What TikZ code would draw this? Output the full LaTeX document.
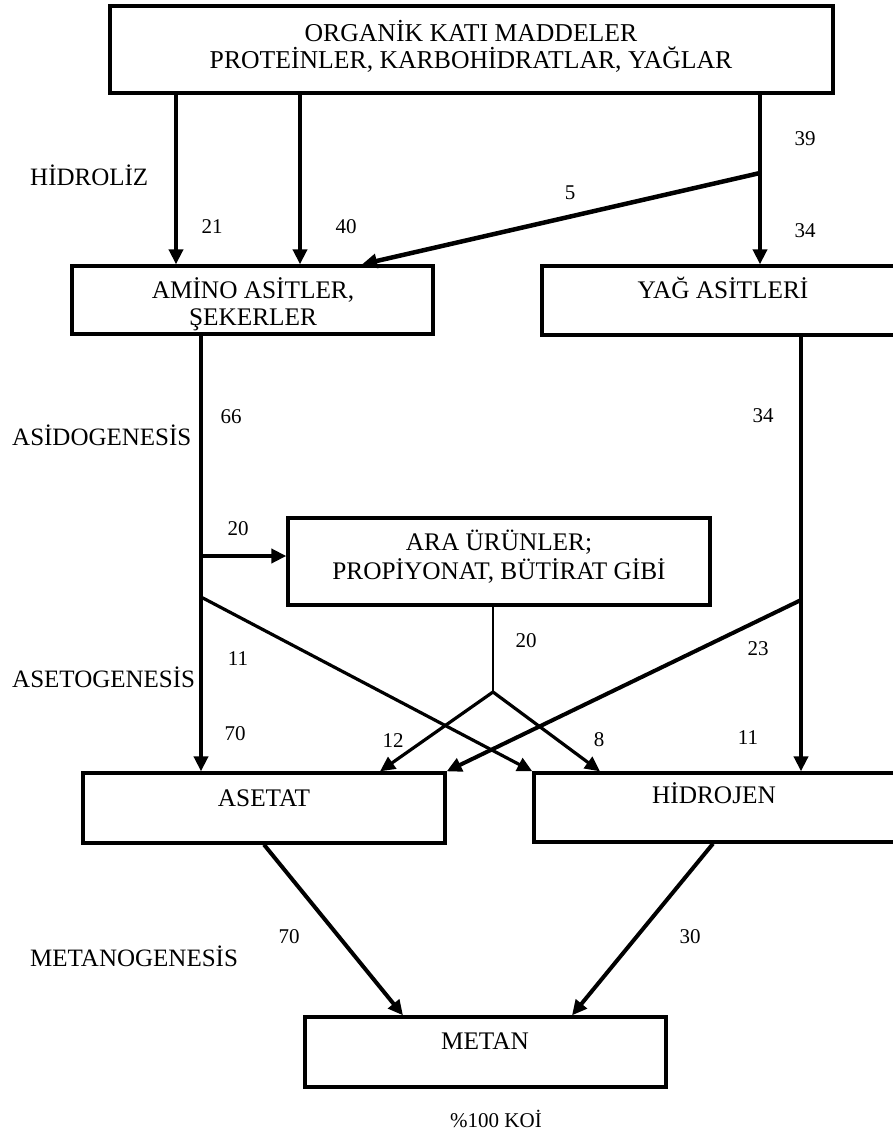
\documentclass[tikz,border=0pt]{standalone}
\usepackage{fontspec}
\setmainfont{Liberation Serif}
\usetikzlibrary{arrows.meta,calc}

\tikzset{
  box/.style={draw, line width=3.3pt, rectangle, inner sep=0pt},
  boxtext/.style={align=center, anchor=base, inner sep=0pt},
  phase/.style={font=\fontsize{25}{30}\selectfont, anchor=base west, inner sep=0pt},
  num/.style={font=\fontsize{21}{25}\selectfont, anchor=base, inner sep=0pt},
  tip/.style={-{Triangle[length=15pt,width=14pt]}},
  flow/.style={line width=4pt, tip},
  thinflow/.style={line width=3.2pt, tip},
}

\begin{document}
\begin{tikzpicture}[x=1pt,y=-1pt]
\useasboundingbox (0,0) rectangle (893,1135);
\clip (0,0) rectangle (893,1135);

% process boxes
\node[box, minimum width=723pt, minimum height=87pt] (top) at (471.5,49.5) {};
\node[box, minimum width=361pt, minimum height=68pt] (amino) at (252.5,300) {};
\node[box, minimum width=362pt, minimum height=69pt] (yag) at (723,300.5) {};
\node[box, minimum width=422pt, minimum height=87pt] (ara) at (499,561.5) {};
\node[box, minimum width=362pt, minimum height=70pt] (asetat) at (264,808) {};
\node[box, minimum width=362pt, minimum height=69pt] (hidrojen) at (715,807.5) {};
\node[box, minimum width=361pt, minimum height=70pt] (metan) at (485.5,1052) {};

% box texts (a multi-line node sits on the baseline of its last line)
\node[boxtext, font=\fontsize{25.7}{27}\selectfont] (top-t) at (471,68)
  {ORGANİK KATI MADDELER\\PROTEİNLER, KARBOHİDRATLAR, YAĞLAR};
\node[boxtext, font=\fontsize{25.3}{27}\selectfont] (amino-t) at (253,325)
  {AMİNO ASİTLER,\\ŞEKERLER};
\node[boxtext, font=\fontsize{25.3}{28}\selectfont] (yag-t) at (723,298) {YAĞ ASİTLERİ};
\node[boxtext, font=\fontsize{25.3}{29}\selectfont] (ara-t) at (499,579)
  {ARA ÜRÜNLER;\\PROPİYONAT, BÜTİRAT GİBİ};
\node[boxtext, font=\fontsize{25.3}{28}\selectfont] (asetat-t) at (264,806) {ASETAT};
\node[boxtext, font=\fontsize{25.3}{28}\selectfont] (hidrojen-t) at (714,803) {HİDROJEN};
\node[boxtext, font=\fontsize{25.3}{28}\selectfont] (metan-t) at (485,1049) {METAN};

% stage names
\node[phase] (hidroliz) at (30,185) {HİDROLİZ};
\node[phase] (asido) at (12,445) {ASİDOGENESİS};
\node[phase] (aseto) at (12,687) {ASETOGENESİS};
\node[phase] (metano) at (30,966) {METANOGENESİS};

% flow shares
\node[num] (n21) at (212,233) {21};
\node[num] (n40) at (346,233) {40};
\node[num] (n39) at (805,145) {39};
\node[num] (n5) at (570,199) {5};
\node[num] (n34a) at (805,237) {34};
\node[num] (n66) at (231,423) {66};
\node[num] (n34b) at (763,422) {34};
\node[num] (n20a) at (238,535) {20};
\node[num] (n20b) at (526,647) {20};
\node[num] (n23) at (758,655) {23};
\node[num] (n11a) at (238,665) {11};
\node[num] (n70a) at (235,740) {70};
\node[num] (n12) at (393,747) {12};
\node[num] (n8) at (599,746) {8};
\node[num] (n11b) at (748,744) {11};
\node[num] (n70b) at (289,943) {70};
\node[num] (n30) at (690,943) {30};
\node[num] (koi) at (496,1127) {\%100 KOİ};

% hydrolysis
\coordinate (c1) at (176,0);
\coordinate (c2) at (300,0);
\coordinate (j1) at (760,173);
\coordinate (a5) at (362,0);
\draw[flow] (top.south -| c1) -- (amino.north -| c1);
\draw[flow] (top.south -| c2) -- (amino.north -| c2);
\draw[flow] (top.south -| j1) -- (yag.north -| j1);
\draw[line width=4.5pt, tip] (j1) -- (amino.north -| a5);

% acidogenesis and acetogenesis
\coordinate (k) at (201,0);
\coordinate (j2) at (201,556);
\coordinate (j3) at (201,597);
\coordinate (j4) at (493,692);
\coordinate (m) at (801,0);
\coordinate (j5) at (801,600);
\coordinate (t1) at (380,0);
\coordinate (t2) at (600,0);
\draw[flow] (amino.south -| k) -- (asetat.north -| k);
\draw[flow] (j2) -- (ara.west |- j2);
\draw[thinflow] (j3) -- (hidrojen.north west);
\draw[line width=2.7pt] (ara.south -| j4) -- (j4);
\draw[thinflow] (j4) -- (asetat.north -| t1);
\draw[thinflow] (j4) -- (hidrojen.north -| t2);
\draw[flow] (yag.south -| m) -- (hidrojen.north -| m);
\draw[flow] (j5) -- (asetat.north east);

% methanogenesis
\coordinate (b1) at (264,0);
\coordinate (b2) at (403,0);
\coordinate (b3) at (713,0);
\coordinate (b4) at (572,0);
\draw[flow] (asetat.south -| b1) -- (metan.north -| b2);
\draw[flow] (hidrojen.south -| b3) -- (metan.north -| b4);
\end{tikzpicture}
\end{document}
